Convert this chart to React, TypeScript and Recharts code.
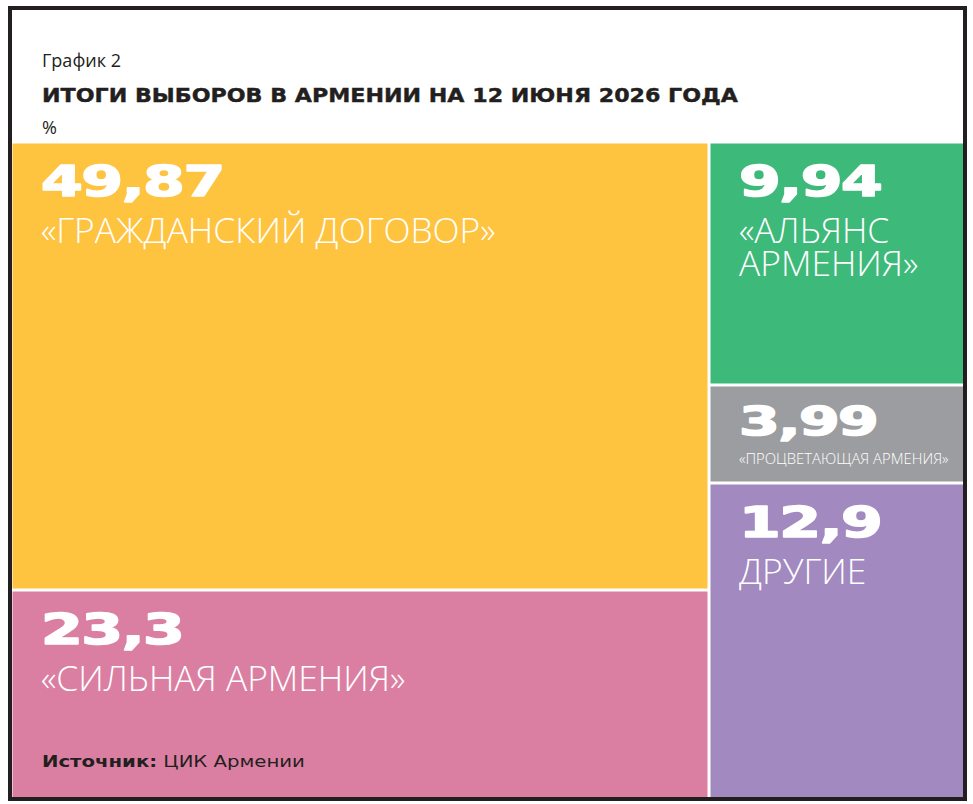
import React from 'react';
import { Treemap } from 'recharts';

// ---- data ----
const parties: string[] = [
  '«ГРАЖДАНСКИЙ ДОГОВОР»',
  '«СИЛЬНАЯ АРМЕНИЯ»',
  '«АЛЬЯНС АРМЕНИЯ»',
  '«ПРОЦВЕТАЮЩАЯ АРМЕНИЯ»',
  'ДРУГИЕ',
];
const shares: number[] = [49.87, 23.3, 9.94, 3.99, 12.9];
const labelLines: string[][] = [
  ['«ГРАЖДАНСКИЙ ДОГОВОР»'],
  ['«СИЛЬНАЯ АРМЕНИЯ»'],
  ['«АЛЬЯНС', 'АРМЕНИЯ»'],
  ['«ПРОЦВЕТАЮЩАЯ АРМЕНИЯ»'],
  ['ДРУГИЕ'],
];
const subtitle = 'График 2';
const title = 'ИТОГИ ВЫБОРОВ В АРМЕНИИ НА 12 ИЮНЯ 2026 ГОДА';
const unit = '%';
const sourceLabel = 'Источник:';
const sourceText = 'ЦИК Армении';

// ---- styles ----
const palette = ['#FEC33F', '#DB7FA2', '#3DB97A', '#9C9DA0', '#A289BF'];
const INK = '#231F20';

const data = parties.map((name, i) => ({ name, value: shares[i] }));

const fmt = (v: number) => String(v).replace('.', ',');

const CellContent = (props: any) => {
  const { x, y, width, height, depth, name, value } = props;
  if (depth !== 1) return null;
  const i = parties.indexOf(name);
  const small = height < 120;
  const g = 1.5;
  const tx = x + 30;
  const lines = labelLines[i] || [name];
  return (
    <g>
      <rect x={x + g} y={y + g} width={Math.max(0, width - 2 * g)} height={Math.max(0, height - 2 * g)} fill={palette[i]} />
      <text
        transform={`translate(${tx},${y + (small ? 50 : 54)}) scale(${small ? 1.5 : 1.43},1)`}
        fill="#fff"
        stroke="#fff"
        strokeWidth={1.6}
        strokeLinejoin="round"
        fontFamily="DejaVu Sans"
        fontWeight="bold"
        fontSize={small ? 39 : 42}
        letterSpacing={-1}
      >
        {fmt(value)}
      </text>
      {lines.map((l, k) => (
        <text
          key={k}
          transform={`translate(${tx},${y + (small ? 79 : 101) + k * 33}) scale(1.04,1)`}
          fill="#fff"
          fontFamily="Open Sans"
          fontWeight={300}
          fontSize={small ? 14.3 : 34}
        >
          {l}
        </text>
      ))}
    </g>
  );
};

export default function App() {
  return (
    <div
      style={{
        position: 'absolute',
        left: 8,
        top: 6,
        width: 959,
        height: 795,
        border: `4px solid ${INK}`,
        boxSizing: 'border-box',
        background: '#fff',
        overflow: 'hidden',
      }}
    >
      <svg width={951} height={133} style={{ position: 'absolute', left: 0, top: 0 }}>
        <text x={30} y={57} fontFamily="Open Sans" fontSize={18} fill={INK}>
          {subtitle}
        </text>
        <text
          x={30}
          y={92}
          fontFamily="DejaVu Sans"
          fontWeight="bold"
          fontSize={19}
          fill={INK}
          stroke={INK}
          strokeWidth={0.4}
          textLength={696}
          lengthAdjust="spacingAndGlyphs"
        >
          {title}
        </text>
        <text x={30} y={124} fontFamily="Open Sans" fontSize={18} fill={INK}>
          {unit}
        </text>
      </svg>
      <div style={{ position: 'absolute', left: -1.5, top: 131.5 }}>
        <Treemap
          width={954}
          height={657}
          data={data}
          dataKey="value"
          nameKey="name"
          aspectRatio={1.585}
          isAnimationActive={false}
          content={<CellContent />}
        />
      </div>
      <svg width={400} height={40} style={{ position: 'absolute', left: 0, top: 740, pointerEvents: 'none' }}>
        <g transform="translate(30,17) scale(1.23,1)">
          <text x={0} y={0} fontFamily="DejaVu Sans" fontSize={16} fill={INK}>
            <tspan fontWeight="bold">{sourceLabel}</tspan>
            <tspan> {sourceText}</tspan>
          </text>
        </g>
      </svg>
    </div>
  );
}
